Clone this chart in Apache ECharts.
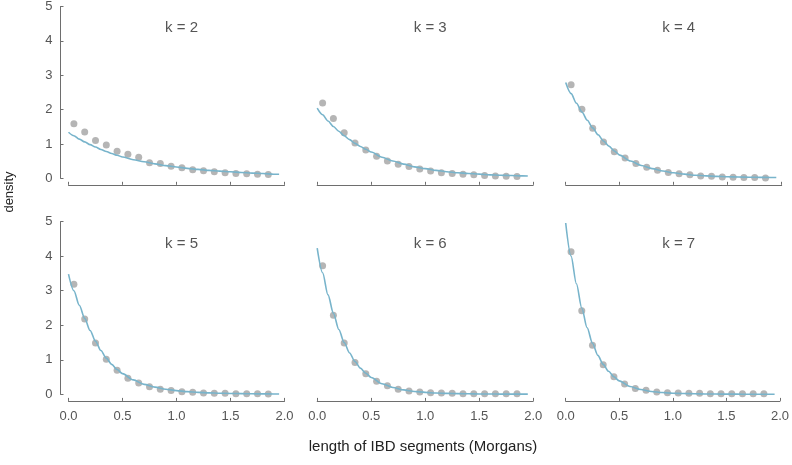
<!DOCTYPE html>
<html>
<head>
<meta charset="utf-8">
<script src="https://cdn.jsdelivr.net/npm/echarts@6/dist/echarts.min.js"></script>
<style>html,body{margin:0;padding:0;background:#fff}#c{width:792px;height:465px}</style>
</head>
<body>
<div id="c"></div>
<script>
var panelTitles = ['k = 2', 'k = 3', 'k = 4', 'k = 5', 'k = 6', 'k = 7'];
var binX = [0.05, 0.15, 0.25, 0.35, 0.45, 0.55, 0.65, 0.75, 0.85, 0.95, 1.05, 1.15, 1.25, 1.35, 1.45, 1.55, 1.65, 1.75, 1.85];
var curveX = [0, 0.05, 0.1, 0.15, 0.2, 0.25, 0.3, 0.35, 0.4, 0.45, 0.5, 0.6, 0.7, 0.8, 0.9, 1.0, 1.1, 1.2, 1.3, 1.4, 1.5, 1.6, 1.7, 1.8, 1.9, 1.95];
var xTicks = [0, 0.5, 1.0, 1.5, 2.0];
var yTicks = [0, 1, 2, 3, 4, 5];

var dotsK2 = [1.59, 1.35, 1.10, 0.97, 0.79, 0.70, 0.61, 0.45, 0.43, 0.35, 0.31, 0.25, 0.22, 0.19, 0.16, 0.14, 0.13, 0.12, 0.11];
var dotsK3 = [2.18, 1.73, 1.32, 1.02, 0.82, 0.64, 0.50, 0.41, 0.34, 0.27, 0.21, 0.16, 0.14, 0.12, 0.10, 0.08, 0.07, 0.06, 0.05];
var dotsK4 = [2.71, 2.00, 1.45, 1.05, 0.77, 0.59, 0.43, 0.32, 0.23, 0.17, 0.13, 0.10, 0.07, 0.06, 0.04, 0.03, 0.02, 0.02, 0.01];
var dotsK5 = [3.19, 2.18, 1.49, 1.02, 0.70, 0.47, 0.33, 0.22, 0.15, 0.11, 0.08, 0.06, 0.04, 0.03, 0.03, 0.02, 0.02, 0.02, 0.01];
var dotsK6 = [3.72, 2.29, 1.49, 0.92, 0.60, 0.38, 0.25, 0.15, 0.10, 0.07, 0.05, 0.04, 0.03, 0.02, 0.02, 0.02, 0.02, 0.02, 0.02];
var dotsK7 = [4.13, 2.42, 1.42, 0.86, 0.51, 0.30, 0.17, 0.12, 0.07, 0.05, 0.04, 0.03, 0.03, 0.02, 0.02, 0.02, 0.02, 0.02, 0.02];

var curveK2 = [1.34, 1.24, 1.14, 1.06, 0.98, 0.91, 0.84, 0.78, 0.72, 0.67, 0.62, 0.54, 0.48, 0.42, 0.37, 0.33, 0.29, 0.26, 0.23, 0.21, 0.19, 0.17, 0.15, 0.14, 0.12, 0.12];
var curveK3 = [2.03, 1.84, 1.66, 1.50, 1.36, 1.23, 1.12, 1.01, 0.92, 0.84, 0.76, 0.61, 0.50, 0.41, 0.33, 0.28, 0.23, 0.19, 0.16, 0.14, 0.12, 0.10, 0.09, 0.08, 0.07, 0.065];
var curveK4 = [2.77, 2.45, 2.17, 1.92, 1.68, 1.46, 1.26, 1.08, 0.93, 0.79, 0.67, 0.50, 0.37, 0.28, 0.21, 0.16, 0.12, 0.09, 0.07, 0.055, 0.045, 0.037, 0.032, 0.028, 0.025, 0.024];
var curveK5 = [3.48, 3.00, 2.58, 2.20, 1.85, 1.54, 1.27, 1.05, 0.87, 0.72, 0.60, 0.42, 0.29, 0.21, 0.15, 0.11, 0.08, 0.06, 0.045, 0.035, 0.028, 0.022, 0.018, 0.015, 0.013, 0.012];
var curveK6 = [4.23, 3.52, 2.88, 2.35, 1.88, 1.50, 1.20, 0.95, 0.76, 0.61, 0.49, 0.31, 0.20, 0.13, 0.085, 0.06, 0.04, 0.03, 0.022, 0.017, 0.013, 0.011, 0.009, 0.008, 0.007, 0.007];
var curveK7 = [4.96, 4.00, 3.20, 2.50, 1.93, 1.48, 1.13, 0.87, 0.67, 0.51, 0.39, 0.23, 0.14, 0.085, 0.055, 0.035, 0.025, 0.018, 0.013, 0.010, 0.008, 0.007, 0.006, 0.005, 0.005, 0.005];

var dotSets = [dotsK2, dotsK3, dotsK4, dotsK5, dotsK6, dotsK7];
var curveSets = [curveK2, curveK3, curveK4, curveK5, curveK6, curveK7];

var FONT = '"Liberation Sans", Arial, Helvetica, sans-serif';
var TXT = '#555555';
var AX = '#6e6e6e';
var colLeft = [68.5, 317.2, 565.7];
var rowTop = [5.5, 221.6];
var gw = 216, gh = 172.8;

var grids = [], xAxes = [], yAxes = [], series = [], titles = [];
for (var i = 0; i < 6; i++) {
  var col = i % 3, row = Math.floor(i / 3);
  grids.push({ left: colLeft[col], top: rowTop[row], width: gw, height: gh, containLabel: false });
  xAxes.push({
    type: 'value', gridIndex: i, min: xTicks[0], max: xTicks[xTicks.length - 1], interval: 0.5,
    position: 'bottom', offset: 6.5,
    axisLine: { show: true, onZero: false, lineStyle: { color: AX, width: 1 } },
    axisTick: { show: true, inside: true, length: 3, lineStyle: { color: AX } },
    axisLabel: { show: row === 1, color: TXT, fontSize: 13, fontFamily: FONT, margin: 9,
      formatter: function (v) { return v.toFixed(1); } },
    splitLine: { show: false }
  });
  yAxes.push({
    type: 'value', gridIndex: i, min: yTicks[0], max: yTicks[yTicks.length - 1], interval: 1,
    show: col === 0,
    position: 'left', offset: 8,
    axisLine: { show: true, onZero: false, lineStyle: { color: AX, width: 1 } },
    axisTick: { show: true, inside: true, length: 3, lineStyle: { color: AX } },
    axisLabel: { show: true, color: TXT, fontSize: 13, fontFamily: FONT, margin: 8 },
    splitLine: { show: false }
  });
  titles.push({
    text: panelTitles[i], left: colLeft[col] + gw / 2, top: rowTop[row] + 9.5, textAlign: 'center',
    textStyle: { color: TXT, fontSize: 15, fontWeight: 'normal', fontFamily: FONT }
  });
  var d = dotSets[i], pts = [];
  for (var j = 0; j < binX.length; j++) pts.push([binX[j], d[j]]);
  var c = curveSets[i], cpts = [];
  for (var j = 0; j < curveX.length; j++) cpts.push([curveX[j], c[j]]);
  series.push({
    type: 'scatter', xAxisIndex: i, yAxisIndex: i, data: pts, symbolSize: 7, z: 2,
    itemStyle: { color: '#a3a3a3' }, silent: true
  });
  series.push({
    type: 'line', xAxisIndex: i, yAxisIndex: i, data: cpts, showSymbol: false, z: 3,
    smooth: 0.3, smoothMonotone: 'x',
    lineStyle: { color: '#78b4cb', width: 1.6 }, silent: true
  });
}

var chart = echarts.init(document.getElementById('c'), null, { renderer: 'canvas' });
chart.setOption({
  animation: false,
  backgroundColor: '#ffffff',
  title: titles,
  grid: grids,
  xAxis: xAxes,
  yAxis: yAxes,
  series: series,
  graphic: [
    { type: 'text', x: 9, y: 192, rotation: Math.PI / 2,
      style: { text: 'density', fill: '#222', font: '13px ' + FONT, textAlign: 'center', textVerticalAlign: 'middle' } },
    { type: 'text', x: 423, y: 447,
      style: { text: 'length of IBD segments (Morgans)', fill: '#222', font: '15px ' + FONT, textAlign: 'center', textVerticalAlign: 'middle' } }
  ]
});
</script>
</body>
</html>
